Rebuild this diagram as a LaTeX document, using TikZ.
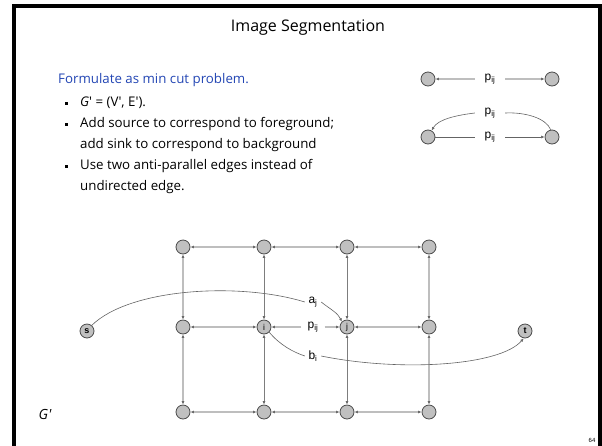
\documentclass[tikz,border=0pt]{standalone}
\usepackage{fontspec}
\setmainfont{Open Sans}
\newfontfamily\lblfont{Liberation Sans}
\usetikzlibrary{arrows.meta}
\definecolor{slideblue}{RGB}{35,70,180}
\definecolor{nodefill}{RGB}{192,192,192}
\definecolor{nodedraw}{RGB}{75,75,75}
\definecolor{edgelight}{RGB}{190,190,190}
\definecolor{edgedark}{RGB}{125,125,125}
\definecolor{tipgray}{RGB}{105,105,105}
\definecolor{curvegray}{RGB}{100,100,100}
\begin{document}
\begin{tikzpicture}[x=1pt,y=-1pt,
  vtx/.style={circle, draw=nodedraw, fill=nodefill, line width=0.8pt, minimum size=14pt, inner sep=0pt, font=\lblfont\fontsize{8.5}{8.5}\selectfont},
  lbl/.style={inner sep=0pt, minimum height=12pt, font=\lblfont\fontsize{12}{12}\selectfont},
  txt/.style={anchor=base west, inner sep=0pt, font=\fontsize{13.3}{16}\selectfont},
  dbl/.style={arrows={Latex[length=3.5pt,width=3pt,color=tipgray]-Latex[length=3.5pt,width=3pt,color=tipgray]}},
  onetip/.style={arrows={-Latex[length=3.5pt,width=3pt,color=tipgray]}},
  hedge/.style={dbl, draw=edgelight, line width=1.3pt},
  vlight/.style={dbl, draw=edgelight, line width=1.1pt},
  vdark/.style={dbl, draw=edgedark, line width=0.7pt},
  thinedge/.style={draw=curvegray, line width=0.6pt},
  bulletsq/.style={fill=black}
]
\useasboundingbox (0,0) rectangle (602,445);
\fill[white] (0,0) rectangle (602,445);
\draw[line width=3.5pt, line join=miter] (14,450) -- (14,6) -- (600,6) -- (600,450);

% title and text
\node[font=\fontsize{16}{19}\selectfont] (title) at (308,28) {Image Segmentation};
\node[txt, text=slideblue] (t0) at (58,83) {Formulate as min cut problem.};
\node[txt] (t1) at (80,106) {\textit{G}\textquotesingle{} = (V\textquotesingle, E\textquotesingle).};
\node[txt] (t2) at (80,127) {Add source to correspond to foreground;};
\node[txt] (t3) at (80,148) {add sink to correspond to background};
\node[txt] (t4) at (80,169) {Use two anti-parallel edges instead of};
\node[txt] (t5) at (80,190) {undirected edge.};
\fill[bulletsq] (64.5,101.5) rectangle (67.5,104.5);
\fill[bulletsq] (64.5,122.5) rectangle (67.5,125.5);
\fill[bulletsq] (64.5,164.5) rectangle (67.5,167.5);

% top right small diagram
\node[vtx] (A) at (428,79) {};
\node[vtx] (B) at (552,79) {};
\node[vtx] (C) at (428,137) {};
\node[vtx] (D) at (552,137) {};
\node[lbl, minimum width=30pt] (L1) at (490,79) {p\textsubscript{ij}};
\node[lbl, minimum width=30pt] (L2) at (490,113) {p\textsubscript{ij}};
\node[lbl, minimum width=30pt] (L3) at (490,137) {p\textsubscript{ij}};
\draw[onetip, draw=edgelight, line width=1.3pt] (L1) -- (A);
\draw[onetip, draw=edgelight, line width=1.3pt] (L1) -- (B);
\draw[thinedge] (C) -- (L3);
\draw[thinedge, onetip] (L3) -- (D);
\draw[thinedge] (D.100) .. controls (546,118) and (525,112) .. (L2.east);
\draw[thinedge, onetip] (L2.west) .. controls (458,115) and (438,119) .. (C.60);

% grid
\node[vtx] (a1) at (183,247) {};
\node[vtx] (a2) at (264,247) {};
\node[vtx] (a3) at (347,247) {};
\node[vtx] (a4) at (429,247) {};
\node[vtx] (b1) at (183,327) {};
\node[vtx] (i) at (264,327) {i};
\node[vtx] (j) at (347,327) {j};
\node[vtx] (b4) at (429,327) {};
\node[vtx] (c1) at (183,412) {};
\node[vtx] (c2) at (264,412) {};
\node[vtx] (c3) at (347,412) {};
\node[vtx] (c4) at (429,412) {};
\node[vtx, font=\lblfont\bfseries\fontsize{9}{9}\selectfont] (s) at (87,331) {s};
\node[vtx, font=\lblfont\bfseries\fontsize{9}{9}\selectfont] (t) at (525,331) {t};

\draw[hedge] (a1) -- (a2);
\draw[hedge] (a2) -- (a3);
\draw[hedge] (a3) -- (a4);
\draw[hedge] (b1) -- (i);
\draw[hedge] (j) -- (b4);
\draw[hedge] (c1) -- (c2);
\draw[hedge] (c2) -- (c3);
\draw[hedge] (c3) -- (c4);
\draw[vlight] (a1) -- (b1);
\draw[vlight] (b1) -- (c1);
\draw[vlight] (a4) -- (b4);
\draw[vlight] (b4) -- (c4);
\draw[vdark] (a2) -- (i);
\draw[vdark] (i) -- (c2);
\draw[vdark] (a3) -- (j);
\draw[vdark] (j) -- (c3);

\node[lbl, minimum width=23pt] (pij) at (313,327) {p\textsubscript{ij}};
\draw[onetip, draw=edgelight, line width=1.3pt] (pij) -- (i);
\draw[onetip, draw=edgelight, line width=1.3pt] (pij) -- (j);

\node[lbl, minimum width=16pt] (aj) at (313,302) {a\textsubscript{j}};
\node[lbl, minimum width=16pt] (bi) at (313,356) {b\textsubscript{i}};
\draw[thinedge] (s.50) .. controls (130,288) and (240,282) .. (aj.west);
\draw[thinedge, onetip] (aj.east) .. controls (330,309) and (338,313) .. (j.north west);
\draw[thinedge] (i.south east) .. controls (280,345) and (293,352) .. (bi.west);
\draw[thinedge, onetip] (bi.east) .. controls (400,372) and (500,366) .. (t.-100);

% labels
\node[font=\fontsize{14}{16}\selectfont\itshape] (gp) at (45,414) {G\textquotesingle};
\node[font=\lblfont\fontsize{6}{6}\selectfont] (pg) at (592,440) {64};
\end{tikzpicture}
\end{document}
